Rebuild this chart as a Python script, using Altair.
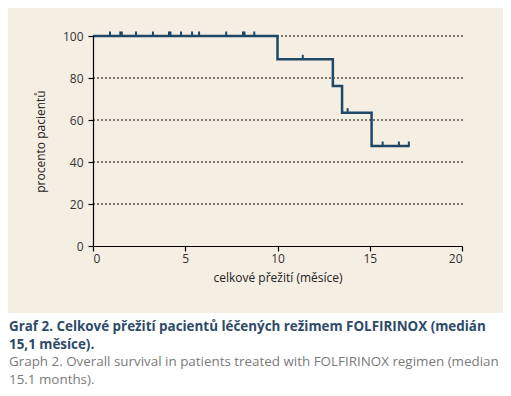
import altair as alt
import pandas as pd

# Kaplan-Meier step curve
step_times = [0, 10.0, 13.0, 13.5, 15.1, 17.15]
step_surv = [100, 88.9, 76.2, 63.5, 47.6, 47.6]

# censored observations
censor_times = [0.92, 1.48, 1.56, 2.33, 3.25, 4.12, 4.2, 4.77, 5.37, 5.75, 7.22,
                8.13, 8.21, 8.74, 11.37, 13.8, 15.7, 16.58, 17.12]
censor_surv = [100, 100, 100, 100, 100, 100, 100, 100, 100, 100, 100,
               100, 100, 100, 88.9, 63.5, 47.6, 47.6, 47.6]

x_ticks = [0, 5, 10, 15, 20]
y_ticks = [0, 20, 40, 60, 80, 100]

caption_cz = "Graf 2. Celkové přežití pacientů léčených režimem FOLFIRINOX (medián\n15,1 měsíce)."
caption_en = "Graph 2. Overall survival in patients treated with FOLFIRINOX regimen (median\n15.1 months)."

BEIGE = "#f5eee3"
CURVE = "#1d4866"
FONT = "Open Sans"

W, H = 369, 210

steps = pd.DataFrame({"t": step_times, "s": step_surv})
cens = pd.DataFrame({"t": censor_times, "s": censor_surv})
grid = pd.DataFrame({"g": y_ticks[1:]})

xscale = alt.Scale(domain=[0, 20], nice=False)
yscale = alt.Scale(domain=[0, 100], nice=False)

white_box = alt.Chart(pd.DataFrame({"a": [0]})).mark_rect(color="white").encode(
    x=alt.value(-90), x2=alt.value(W + 60), y=alt.value(H + 67), y2=alt.value(H + 200)
)

grid_lines = alt.Chart(grid).mark_rule(color="black", strokeDash=[2, 2], strokeWidth=1).encode(
    y=alt.Y("g:Q", scale=yscale),
    x=alt.value(0), x2=alt.value(W + 2),
)

line = alt.Chart(steps).mark_line(interpolate="step-after", color=CURVE, strokeWidth=2.5).encode(
    x=alt.X("t:Q", scale=xscale,
            axis=alt.Axis(values=x_ticks, title="celkové přežití (měsíce)", grid=False,
                          domainColor="black", tickColor="black", tickSize=5,
                          labelPadding=2, titlePadding=8, zindex=1)),
    y=alt.Y("s:Q", scale=yscale,
            axis=alt.Axis(values=y_ticks, title="procento pacientů", grid=False,
                          domainColor="black", tickColor="black", tickSize=5,
                          labelPadding=5, titlePadding=15, zindex=1)),
)

ticks = alt.Chart(cens).mark_tick(orient="vertical", color=CURVE, size=5, thickness=2,
                                  yOffset=-2, opacity=1).encode(
    x=alt.X("t:Q", scale=xscale),
    y=alt.Y("s:Q", scale=yscale),
)

cap1 = alt.Chart(pd.DataFrame({"txt": [caption_cz]})).mark_text(
    align="left", baseline="middle", lineBreak="\n", lineHeight=17.5,
    font=FONT, fontSize=13.4, fontWeight="bold", color="#2d4a68"
).encode(text="txt:N", x=alt.value(-84), y=alt.value(H + 81))

cap2 = alt.Chart(pd.DataFrame({"txt": [caption_en]})).mark_text(
    align="left", baseline="middle", lineBreak="\n", lineHeight=17.5,
    font=FONT, fontSize=13.4, color="#7a7a7a"
).encode(text="txt:N", x=alt.value(-84), y=alt.value(H + 116))

chart = alt.layer(white_box, grid_lines, line, ticks, cap1, cap2).properties(
    width=W, height=H,
    autosize=alt.AutoSizeParams(type="none"),
    padding={"left": 85, "top": 28, "right": 41, "bottom": 142},
    background=BEIGE,
).configure_view(stroke=None).configure_axis(
    labelFont=FONT, titleFont=FONT, labelFontSize=12, titleFontSize=12,
    labelColor="#333333", titleColor="#222222", titleFontWeight="normal",
    domainWidth=1.2, tickWidth=1.2,
)

chart.save("out.html", embed_options={"renderer": "svg", "actions": False})
